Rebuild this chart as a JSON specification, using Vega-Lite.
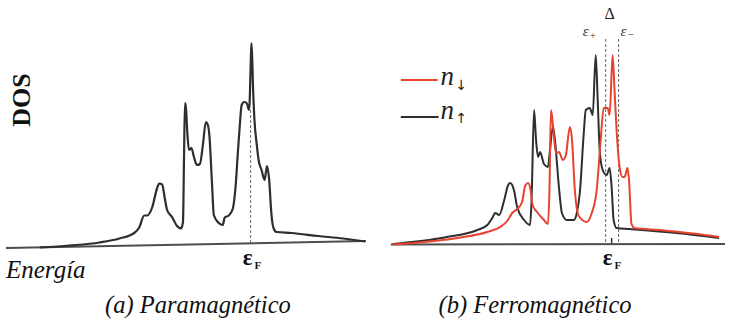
{
  "$schema": "https://vega.github.io/schema/vega-lite/v6.json",
  "width": 729,
  "height": 322,
  "padding": 0,
  "autosize": {"type": "fit", "contains": "padding"},
  "background": "white",
  "config": {"view": {"stroke": null}, "text": {"font": "Liberation Serif"}},
  "datasets": {
    "curvas": [
      {"serie": "para", "E": 40, "dos": 2.5}, {"serie": "para", "E": 70, "dos": 4.5}, {"serie": "para", "E": 100, "dos": 7.5},
      {"serie": "para", "E": 120, "dos": 11.5}, {"serie": "para", "E": 135, "dos": 17}, {"serie": "para", "E": 140, "dos": 22.5},
      {"serie": "para", "E": 145, "dos": 34.5}, {"serie": "para", "E": 148, "dos": 34.5}, {"serie": "para", "E": 153, "dos": 42.5},
      {"serie": "para", "E": 158, "dos": 62}, {"serie": "para", "E": 160, "dos": 66.5}, {"serie": "para", "E": 163, "dos": 65.5},
      {"serie": "para", "E": 166, "dos": 50}, {"serie": "para", "E": 168, "dos": 40}, {"serie": "para", "E": 173, "dos": 33},
      {"serie": "para", "E": 178, "dos": 24}, {"serie": "para", "E": 182, "dos": 21.5}, {"serie": "para", "E": 184, "dos": 28},
      {"serie": "para", "E": 185, "dos": 90}, {"serie": "para", "E": 186, "dos": 147}, {"serie": "para", "E": 187, "dos": 142},
      {"serie": "para", "E": 188.5, "dos": 115}, {"serie": "para", "E": 190, "dos": 100}, {"serie": "para", "E": 192.5, "dos": 102},
      {"serie": "para", "E": 195, "dos": 93}, {"serie": "para", "E": 198, "dos": 85}, {"serie": "para", "E": 201, "dos": 86},
      {"serie": "para", "E": 204, "dos": 105}, {"serie": "para", "E": 207, "dos": 128}, {"serie": "para", "E": 209, "dos": 125},
      {"serie": "para", "E": 210.5, "dos": 115}, {"serie": "para", "E": 213, "dos": 70}, {"serie": "para", "E": 215, "dos": 35},
      {"serie": "para", "E": 220, "dos": 27}, {"serie": "para", "E": 224, "dos": 25}, {"serie": "para", "E": 226, "dos": 32.5},
      {"serie": "para", "E": 230, "dos": 34.5}, {"serie": "para", "E": 234, "dos": 41}, {"serie": "para", "E": 237, "dos": 65},
      {"serie": "para", "E": 239, "dos": 95}, {"serie": "para", "E": 241, "dos": 123}, {"serie": "para", "E": 243, "dos": 145},
      {"serie": "para", "E": 245.5, "dos": 148}, {"serie": "para", "E": 248, "dos": 147}, {"serie": "para", "E": 250.5, "dos": 140},
      {"serie": "para", "E": 253, "dos": 207}, {"serie": "para", "E": 254.5, "dos": 160}, {"serie": "para", "E": 256, "dos": 128},
      {"serie": "para", "E": 258, "dos": 107}, {"serie": "para", "E": 260, "dos": 90}, {"serie": "para", "E": 263, "dos": 80},
      {"serie": "para", "E": 266, "dos": 70}, {"serie": "para", "E": 268.5, "dos": 84}, {"serie": "para", "E": 270.5, "dos": 72},
      {"serie": "para", "E": 273, "dos": 35}, {"serie": "para", "E": 275, "dos": 22}, {"serie": "para", "E": 278, "dos": 18},
      {"serie": "para", "E": 293, "dos": 17}, {"serie": "para", "E": 320, "dos": 14}, {"serie": "para", "E": 345, "dos": 11.5},
      {"serie": "para", "E": 367, "dos": 8.5},

      {"serie": "up", "E": 395, "dos": 6}, {"serie": "up", "E": 447, "dos": 12.5}, {"serie": "up", "E": 480, "dos": 20},
      {"serie": "up", "E": 490, "dos": 25}, {"serie": "up", "E": 495, "dos": 32}, {"serie": "up", "E": 498, "dos": 37},
      {"serie": "up", "E": 502, "dos": 35}, {"serie": "up", "E": 507, "dos": 50}, {"serie": "up", "E": 511, "dos": 65},
      {"serie": "up", "E": 513, "dos": 67}, {"serie": "up", "E": 515, "dos": 65}, {"serie": "up", "E": 517, "dos": 59},
      {"serie": "up", "E": 520, "dos": 43}, {"serie": "up", "E": 527, "dos": 30}, {"serie": "up", "E": 533, "dos": 25},
      {"serie": "up", "E": 534.5, "dos": 50}, {"serie": "up", "E": 537, "dos": 140}, {"serie": "up", "E": 539, "dos": 110},
      {"serie": "up", "E": 541, "dos": 93}, {"serie": "up", "E": 543, "dos": 98}, {"serie": "up", "E": 547, "dos": 86},
      {"serie": "up", "E": 551, "dos": 83}, {"serie": "up", "E": 553, "dos": 100}, {"serie": "up", "E": 556, "dos": 123},
      {"serie": "up", "E": 558, "dos": 110}, {"serie": "up", "E": 562, "dos": 63}, {"serie": "up", "E": 565, "dos": 37},
      {"serie": "up", "E": 570, "dos": 30}, {"serie": "up", "E": 577, "dos": 30}, {"serie": "up", "E": 580, "dos": 37},
      {"serie": "up", "E": 583, "dos": 57}, {"serie": "up", "E": 587, "dos": 117}, {"serie": "up", "E": 589, "dos": 140},
      {"serie": "up", "E": 593, "dos": 142}, {"serie": "up", "E": 596, "dos": 135}, {"serie": "up", "E": 599, "dos": 195},
      {"serie": "up", "E": 601, "dos": 150}, {"serie": "up", "E": 603, "dos": 100}, {"serie": "up", "E": 606, "dos": 80},
      {"serie": "up", "E": 610, "dos": 75}, {"serie": "up", "E": 613, "dos": 82}, {"serie": "up", "E": 615, "dos": 63},
      {"serie": "up", "E": 617, "dos": 30}, {"serie": "up", "E": 620, "dos": 22}, {"serie": "up", "E": 633, "dos": 21},
      {"serie": "up", "E": 680, "dos": 17}, {"serie": "up", "E": 723, "dos": 12},

      {"serie": "down", "E": 395, "dos": 5.5}, {"serie": "down", "E": 463, "dos": 12.5}, {"serie": "down", "E": 490, "dos": 18},
      {"serie": "down", "E": 503, "dos": 23}, {"serie": "down", "E": 510, "dos": 29}, {"serie": "down", "E": 515, "dos": 37},
      {"serie": "down", "E": 520, "dos": 41}, {"serie": "down", "E": 525, "dos": 48}, {"serie": "down", "E": 528, "dos": 64},
      {"serie": "down", "E": 531, "dos": 67}, {"serie": "down", "E": 533.5, "dos": 60}, {"serie": "down", "E": 535.5, "dos": 45},
      {"serie": "down", "E": 540, "dos": 38}, {"serie": "down", "E": 547, "dos": 30}, {"serie": "down", "E": 551, "dos": 26},
      {"serie": "down", "E": 552.5, "dos": 60}, {"serie": "down", "E": 554, "dos": 140}, {"serie": "down", "E": 556, "dos": 125},
      {"serie": "down", "E": 559, "dos": 97}, {"serie": "down", "E": 562, "dos": 98}, {"serie": "down", "E": 566, "dos": 90},
      {"serie": "down", "E": 569, "dos": 95}, {"serie": "down", "E": 573, "dos": 123}, {"serie": "down", "E": 575, "dos": 112},
      {"serie": "down", "E": 578, "dos": 60}, {"serie": "down", "E": 582, "dos": 34}, {"serie": "down", "E": 590, "dos": 28},
      {"serie": "down", "E": 595, "dos": 37}, {"serie": "down", "E": 600, "dos": 60}, {"serie": "down", "E": 604, "dos": 110},
      {"serie": "down", "E": 607, "dos": 142}, {"serie": "down", "E": 611, "dos": 142}, {"serie": "down", "E": 613, "dos": 135},
      {"serie": "down", "E": 616, "dos": 195}, {"serie": "down", "E": 618, "dos": 158}, {"serie": "down", "E": 620, "dos": 120},
      {"serie": "down", "E": 623, "dos": 83}, {"serie": "down", "E": 626, "dos": 73}, {"serie": "down", "E": 628, "dos": 73},
      {"serie": "down", "E": 631, "dos": 82}, {"serie": "down", "E": 632.5, "dos": 70}, {"serie": "down", "E": 635, "dos": 26},
      {"serie": "down", "E": 638, "dos": 22}, {"serie": "down", "E": 663, "dos": 20}, {"serie": "down", "E": 697, "dos": 16.5},
      {"serie": "down", "E": 723, "dos": 13}
    ],
    "bases": [
      {"serie": "base_a", "E": 6, "dos": 2}, {"serie": "base_a", "E": 368, "dos": 9},
      {"serie": "base_b", "E": 393, "dos": 5.5}, {"serie": "base_b", "E": 729, "dos": 6}
    ],
    "leyenda": [
      {"serie": "down", "E": 403, "dos": 170}, {"serie": "down", "E": 440, "dos": 170},
      {"serie": "up", "E": 403, "dos": 133}, {"serie": "up", "E": 441, "dos": 133}
    ],
    "niveles": [
      {"k": "fermi_a", "E": 252, "dos": 140, "dos2": 7},
      {"k": "eps_plus", "E": 609, "dos": 211, "dos2": 6},
      {"k": "eps_minus", "E": 622, "dos": 211, "dos2": 6},
      {"k": "tick", "E": 615, "dos": 12, "dos2": 5}
    ],
    "textos": [
      {"k": "eje_y", "E": 22, "dos": 150, "t": "DOS"},
      {"k": "eje_x", "E": 6, "dos": -28, "t": "Energía"},
      {"k": "titulo", "E": 199, "dos": -63, "t": "(a) Paramagnético"},
      {"k": "titulo", "E": 538, "dos": -63, "t": "(b) Ferromagnético"},
      {"k": "fermi", "E": 244, "dos": -15, "t": "ε"},
      {"k": "fermi_sub", "E": 256, "dos": -18.5, "t": "F"},
      {"k": "fermi", "E": 606, "dos": -15, "t": "ε"},
      {"k": "fermi_sub", "E": 618, "dos": -18.5, "t": "F"},
      {"k": "spin", "E": 443, "dos": 165, "t": "n"},
      {"k": "spin_sub", "E": 458, "dos": 160, "t": "↓"},
      {"k": "spin", "E": 443, "dos": 131, "t": "n"},
      {"k": "spin_sub", "E": 458, "dos": 127, "t": "↑"},
      {"k": "delta", "E": 613, "dos": 231, "t": "Δ"},
      {"k": "eps", "E": 586, "dos": 214, "t": "ε"},
      {"k": "eps_sub", "E": 593, "dos": 211, "t": "+"},
      {"k": "eps", "E": 624, "dos": 214, "t": "ε"},
      {"k": "eps_sub", "E": 631, "dos": 212, "t": "−"}
    ]
  },
  "encoding": {
    "x": {"field": "E", "type": "quantitative", "scale": {"domain": [0, 729], "nice": false, "zero": false}, "axis": null},
    "y": {"field": "dos", "type": "quantitative", "scale": {"domain": [-72, 250], "nice": false, "zero": false}, "axis": null}
  },
  "layer": [
    {
      "data": {"name": "niveles"},
      "transform": [{"filter": "datum.k !== 'tick'"}],
      "mark": {"type": "rule", "stroke": "#6a6a6a", "strokeWidth": 1, "strokeDash": [3, 2]},
      "encoding": {"y2": {"field": "dos2"}}
    },
    {
      "data": {"name": "niveles"},
      "transform": [{"filter": "datum.k === 'tick'"}],
      "mark": {"type": "rule", "stroke": "#333333", "strokeWidth": 1.5},
      "encoding": {"y2": {"field": "dos2"}}
    },
    {
      "data": {"name": "bases"},
      "mark": {"type": "line", "strokeWidth": 2},
      "encoding": {
        "color": {"field": "serie", "type": "nominal", "legend": null,
          "scale": {"domain": ["para", "up", "down", "base_a", "base_b"], "range": ["#2e2e2e", "#2e2e2e", "#e8412f", "#4d4d4d", "#4d4d4d"]}}
      }
    },
    {
      "data": {"name": "curvas"},
      "transform": [{"filter": "datum.serie === 'para'"}],
      "mark": {"type": "line", "strokeWidth": 2.2, "interpolate": "monotone"},
      "encoding": {"color": {"field": "serie", "type": "nominal", "legend": null}}
    },
    {
      "data": {"name": "curvas"},
      "transform": [{"filter": "datum.serie === 'up'"}],
      "mark": {"type": "line", "strokeWidth": 2, "interpolate": "monotone"},
      "encoding": {"color": {"field": "serie", "type": "nominal", "legend": null}}
    },
    {
      "data": {"name": "curvas"},
      "transform": [{"filter": "datum.serie === 'down'"}],
      "mark": {"type": "line", "strokeWidth": 2, "interpolate": "monotone"},
      "encoding": {"color": {"field": "serie", "type": "nominal", "legend": null}}
    },
    {
      "data": {"name": "leyenda"},
      "mark": {"type": "line", "strokeWidth": 2},
      "encoding": {"color": {"field": "serie", "type": "nominal", "legend": null}}
    },
    {
      "data": {"name": "textos"},
      "transform": [{"filter": "datum.k === 'eje_y'"}],
      "mark": {"type": "text", "fontWeight": "bold", "fontSize": 26, "angle": 270, "align": "center", "baseline": "middle", "color": "#111111"},
      "encoding": {"text": {"field": "t"}}
    },
    {
      "data": {"name": "textos"},
      "transform": [{"filter": "datum.k === 'eje_x'"}],
      "mark": {"type": "text", "fontStyle": "italic", "fontSize": 25, "align": "left", "baseline": "alphabetic", "color": "#111111"},
      "encoding": {"text": {"field": "t"}}
    },
    {
      "data": {"name": "textos"},
      "transform": [{"filter": "datum.k === 'titulo'"}],
      "mark": {"type": "text", "fontStyle": "italic", "fontSize": 24.5, "align": "center", "baseline": "alphabetic", "color": "#111111"},
      "encoding": {"text": {"field": "t"}}
    },
    {
      "data": {"name": "textos"},
      "transform": [{"filter": "datum.k === 'fermi'"}],
      "mark": {"type": "text", "fontWeight": "bold", "fontSize": 23, "align": "left", "baseline": "alphabetic", "color": "#111111"},
      "encoding": {"text": {"field": "t"}}
    },
    {
      "data": {"name": "textos"},
      "transform": [{"filter": "datum.k === 'fermi_sub'"}],
      "mark": {"type": "text", "fontWeight": "bold", "fontSize": 11, "align": "left", "baseline": "alphabetic", "color": "#111111"},
      "encoding": {"text": {"field": "t"}}
    },
    {
      "data": {"name": "textos"},
      "transform": [{"filter": "datum.k === 'spin'"}],
      "mark": {"type": "text", "fontStyle": "italic", "fontSize": 27, "align": "left", "baseline": "alphabetic", "color": "#222222"},
      "encoding": {"text": {"field": "t"}}
    },
    {
      "data": {"name": "textos"},
      "transform": [{"filter": "datum.k === 'spin_sub'"}],
      "mark": {"type": "text", "font": "DejaVu Sans", "fontSize": 14, "align": "left", "baseline": "alphabetic", "color": "#222222"},
      "encoding": {"text": {"field": "t"}}
    },
    {
      "data": {"name": "textos"},
      "transform": [{"filter": "datum.k === 'delta'"}],
      "mark": {"type": "text", "fontSize": 16, "align": "center", "baseline": "alphabetic", "color": "#222222"},
      "encoding": {"text": {"field": "t"}}
    },
    {
      "data": {"name": "textos"},
      "transform": [{"filter": "datum.k === 'eps'"}],
      "mark": {"type": "text", "fontStyle": "italic", "fontSize": 15, "align": "left", "baseline": "alphabetic", "color": "#333333"},
      "encoding": {"text": {"field": "t"}}
    },
    {
      "data": {"name": "textos"},
      "transform": [{"filter": "datum.k === 'eps_sub'"}],
      "mark": {"type": "text", "fontSize": 11, "align": "left", "baseline": "alphabetic", "color": "#333333"},
      "encoding": {"text": {"field": "t"}}
    }
  ]
}
